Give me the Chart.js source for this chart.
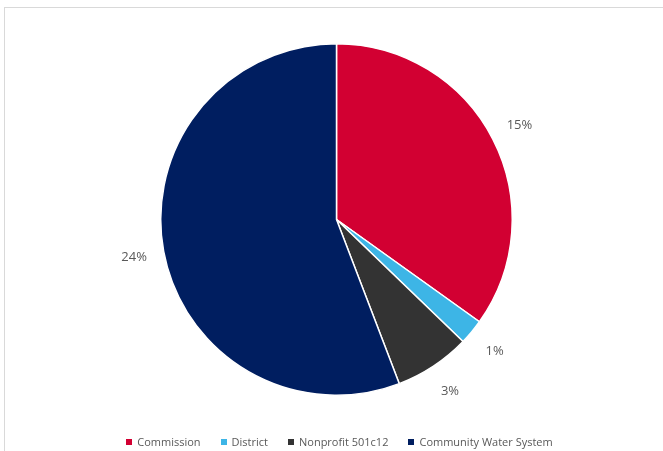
<!DOCTYPE html>
<html>
<head>
<meta charset="utf-8">
<script src="https://cdn.jsdelivr.net/npm/chart.js@4.4.1/dist/chart.umd.min.js"></script>
<style>
  html, body { margin: 0; padding: 0; background: #fff; }
  #wrap { position: relative; width: 663px; height: 451px; overflow: hidden; font-family: "Open Sans", "Noto Sans", sans-serif; }
  #frame { position: absolute; left: 4px; top: 7px; right: -2px; bottom: -2px; border-left: 1px solid #d9d9d9; border-top: 1px solid #d9d9d9; }
  #pie { position: absolute; left: 0; top: 0; }
  #legend { position: absolute; left: 16px; right: 0; top: 434px; display: flex; justify-content: center; gap: 20px; font-size: 11px; color: #595959; }
  .lg-item { display: flex; align-items: center; white-space: nowrap; }
  .lg-box { width: 6px; height: 6px; margin-right: 5px; }
</style>
</head>
<body>
<div id="wrap">
  <div id="frame"></div>
  <canvas id="pie" width="663" height="451"></canvas>
  <div id="legend"></div>
</div>
<script>
'use strict';

// ── 데이터 ─────────────────────────────────────────────
const CATEGORIES = ['Commission', 'District', 'Nonprofit 501c12', 'Community Water System'];
const VALUES     = [15, 1, 3, 24];
const COLORS     = ['#d20032', '#3db5e6', '#333333', '#001e60'];

// ── 조각 바깥 라벨 ─────────────────────────────────────
const outsideLabels = {
  id: 'outsideLabels',
  afterDatasetsDraw(chart) {
    const ctx = chart.ctx;
    const meta = chart.getDatasetMeta(0);
    ctx.save();
    ctx.font = '13px "Open Sans", "Noto Sans", sans-serif';
    ctx.fillStyle = '#595959';
    ctx.textAlign = 'center';
    ctx.textBaseline = 'middle';
    meta.data.forEach((arc, i) => {
      const { x, y, startAngle, endAngle, outerRadius } = arc.getProps(['x', 'y', 'startAngle', 'endAngle', 'outerRadius'], true);
      const mid = (startAngle + endAngle) / 2;
      const r = outerRadius + 30;
      ctx.fillText(VALUES[i] + '%', x + Math.cos(mid) * r, y + Math.sin(mid) * r);
    });
    ctx.restore();
  }
};

new Chart(document.getElementById('pie'), {
  type: 'pie',
  data: {
    labels: CATEGORIES,
    datasets: [{
      data: VALUES,
      backgroundColor: COLORS,
      borderColor: '#ffffff',
      borderWidth: 1.5,
    }]
  },
  options: {
    responsive: false,
    animation: false,
    layout: { padding: { left: 160, right: 150, top: 43, bottom: 55 } },
    plugins: {
      legend: { display: false },
      tooltip: { enabled: false }
    }
  },
  plugins: [outsideLabels]
});

// ── 범례 ───────────────────────────────────────────────
const legend = document.getElementById('legend');
CATEGORIES.forEach((name, i) => {
  const item = document.createElement('div');
  item.className = 'lg-item';
  item.innerHTML = `<span class="lg-box" style="background:${COLORS[i]}"></span>${name}`;
  legend.appendChild(item);
});
</script>
</body>
</html>
